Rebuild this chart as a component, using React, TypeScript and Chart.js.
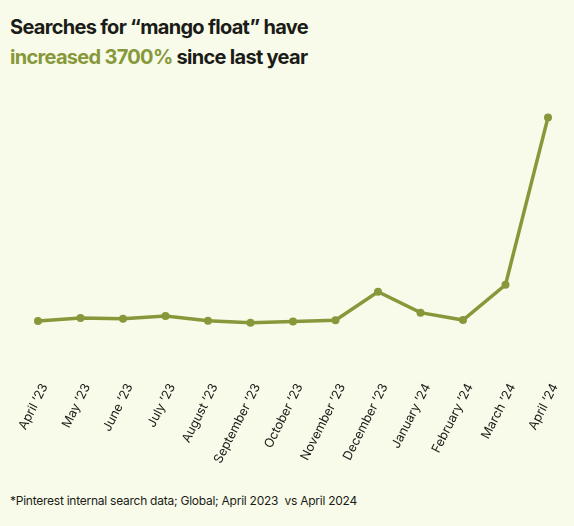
import React, { useEffect, useRef } from "react";
import { Chart, registerables } from "chart.js";

Chart.register(...registerables);

const months = [
  "April ’23",
  "May ’23",
  "June ’23",
  "July ’23",
  "August ’23",
  "September ’23",
  "October ’23",
  "November ’23",
  "December ’23",
  "January ’24",
  "February ’24",
  "March ’24",
  "April ’24",
];

// relative search volume (April '23 = 1)
const searchIndex = [1.0, 1.55, 1.42, 1.92, 1.05, 0.69, 0.93, 1.15, 6.31, 2.52, 1.18, 7.59, 38.0];

const yMin = -7.74;
const yMax = 41.17;

const GREEN = "#87983b";
const BG = "#f8fbe9";
const INK = "#1b1b18";

export default function App() {
  const ref = useRef<HTMLCanvasElement>(null);
  useEffect(() => {
    document.body.style.margin = "0";
    const chart = new Chart(ref.current!, {
      type: "line",
      data: {
        labels: months,
        datasets: [
          {
            data: searchIndex,
            borderColor: GREEN,
            backgroundColor: GREEN,
            pointBackgroundColor: GREEN,
            pointBorderColor: GREEN,
            borderWidth: 3.5,
            pointRadius: 4,
            pointBorderWidth: 0,
            tension: 0,
          },
        ],
      },
      options: {
        animation: false,
        responsive: false,
        layout: { padding: { left: 38, right: 26, top: 10, bottom: 0 } },
        plugins: { legend: { display: false }, tooltip: { enabled: false } },
        scales: {
          x: {
            offset: false,
            grid: { display: false },
            border: { display: false },
            ticks: {
              autoSkip: false,
              minRotation: 63,
              maxRotation: 63,
              padding: 4,
              color: INK,
              showLabelBackdrop: true,
              backdropColor: "rgba(0,0,0,0)",
              font: { family: "Inter", size: 12.6 },
            },
          },
          y: { display: false, min: yMin, max: yMax },
        },
      },
    });
    return () => chart.destroy();
  }, []);

  return (
    <div style={{ position: "fixed", left: 0, top: 0, width: 574, height: 526, background: BG, fontFamily: "Inter, sans-serif" }}>
      <div style={{ position: "absolute", left: 10, top: 12, fontSize: 20, fontWeight: 700, lineHeight: "30px", color: INK, letterSpacing: -0.7 }}>
        <div>Searches for “mango float” have</div>
        <div>
          <span style={{ color: GREEN }}>increased 3700%</span> since last year
        </div>
      </div>
      <canvas ref={ref} width={574} height={380} style={{ position: "absolute", left: 0, top: 90 }} />
      <div style={{ position: "absolute", left: 10, top: 493, fontSize: 12, color: INK, letterSpacing: -0.25 }}>
        *Pinterest internal search data; Global; April 2023&nbsp; vs April 2024
      </div>
    </div>
  );
}
